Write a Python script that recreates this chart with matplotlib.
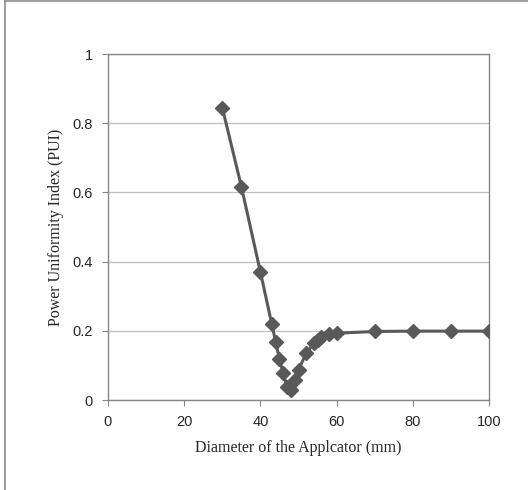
import matplotlib
matplotlib.use('Agg')
import matplotlib.pyplot as plt
from matplotlib.lines import Line2D

# diameter (mm) and power uniformity index
diameter = [30, 35, 40, 43, 44, 45, 46, 47, 48, 49, 50, 52, 54, 55, 56, 58, 60, 70, 80, 90, 100]
pui = [0.845, 0.617, 0.37, 0.219, 0.168, 0.118, 0.077, 0.038, 0.029, 0.058, 0.087, 0.135,
       0.164, 0.174, 0.183, 0.19, 0.193, 0.198, 0.199, 0.199, 0.199]

x_ticks = [0, 20, 40, 60, 80, 100]
y_ticks = [0, 0.2, 0.4, 0.6, 0.8, 1]
y_labels = ['0', '0.2', '0.4', '0.6', '0.8', '1']

fig = plt.figure(figsize=(5.28, 4.9), dpi=100)
ax = fig.add_axes([108 / 528, 1 - 400 / 490, (489 - 108) / 528, (400 - 54) / 490])

# chart frame, only left and top edges show in the crop
x0 = 4.5 / 528
y1 = 1 - 1.5 / 490
fig.lines.append(Line2D([x0, x0], [0, y1], transform=fig.transFigure, color='#8c8c8c', linewidth=1.2))
fig.lines.append(Line2D([x0, 1], [y1, y1], transform=fig.transFigure, color='#8c8c8c', linewidth=1.2))

ax.plot(diameter, pui, color='#595959', linewidth=2.2, marker='D', markersize=7, zorder=3)

ax.set_xlim(0, 100)
ax.set_ylim(0, 1)
ax.set_xticks(x_ticks)
ax.set_yticks(y_ticks)
ax.set_yticklabels(y_labels)
ax.grid(axis='y', color='#bfbfbf', linewidth=0.9)
ax.set_axisbelow(True)

for s in ax.spines.values():
    s.set_color('#868686')
    s.set_linewidth(1.0)

ax.tick_params(axis='both', direction='out', length=4, color='#868686', labelsize=10.5,
               labelcolor='#262626', pad=7)
for lab in ax.get_xticklabels() + ax.get_yticklabels():
    lab.set_family('Liberation Sans')

ax.set_xlabel('Diameter of the Applcator (mm)', family='Liberation Serif', fontsize=11.5,
              color='#262626', labelpad=8)
ax.set_ylabel('Power Uniformity Index (PUI)', family='Liberation Serif', fontsize=11.5,
              color='#262626', labelpad=6)

plt.savefig('out.png', dpi=100)
